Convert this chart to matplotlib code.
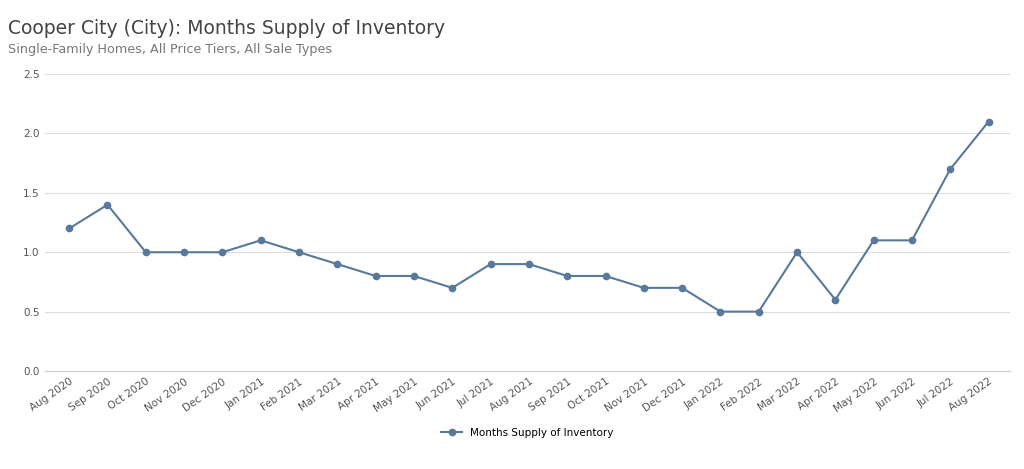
import matplotlib
matplotlib.use("Agg")
import matplotlib.pyplot as plt

months = ["Aug 2020","Sep 2020","Oct 2020","Nov 2020","Dec 2020","Jan 2021","Feb 2021","Mar 2021",
          "Apr 2021","May 2021","Jun 2021","Jul 2021","Aug 2021","Sep 2021","Oct 2021","Nov 2021",
          "Dec 2021","Jan 2022","Feb 2022","Mar 2022","Apr 2022","May 2022","Jun 2022","Jul 2022","Aug 2022"]
supply = [1.2,1.4,1.0,1.0,1.0,1.1,1.0,0.9,0.8,0.8,0.7,0.9,0.9,0.8,0.8,0.7,0.7,0.5,0.5,1.0,0.6,1.1,1.1,1.7,2.1]
yticks = [0.0,0.5,1.0,1.5,2.0,2.5]

fig = plt.figure(figsize=(10.24,4.69), dpi=100)
ax = fig.add_axes([0.044,0.209,0.942,0.633])
color = "#58799a"
x = list(range(len(months)))
ax.plot(x, supply, color=color, lw=1.5, marker="o", ms=4.5, label="Months Supply of Inventory")
ax.set_xlim(-0.63, 24.55)
ax.set_ylim(0, 2.5)
ax.set_yticks(yticks)
ax.set_yticklabels([f"{v:.1f}" for v in yticks], fontsize=7.5, color="#555555")
ax.set_xticks(x)
ax.set_xticklabels(months, rotation=35, ha="right", fontsize=7.5, color="#555555", rotation_mode="anchor")
ax.grid(axis="y", color="#dddddd", lw=0.8)
ax.set_axisbelow(True)
for s in ["top","right","left"]:
    ax.spines[s].set_visible(False)
ax.spines["bottom"].set_color("#cccccc")
ax.tick_params(length=0, pad=4)
fig.text(0.008,0.928,"Cooper City (City): Months Supply of Inventory", fontsize=13.5, color="#444444")
fig.text(0.008,0.888,"Single-Family Homes, All Price Tiers, All Sale Types", fontsize=9.2, color="#777777")
fig.legend(loc="center", bbox_to_anchor=(0.515,0.077), frameon=False, fontsize=7.5)
fig.savefig("out.png", dpi=100)
